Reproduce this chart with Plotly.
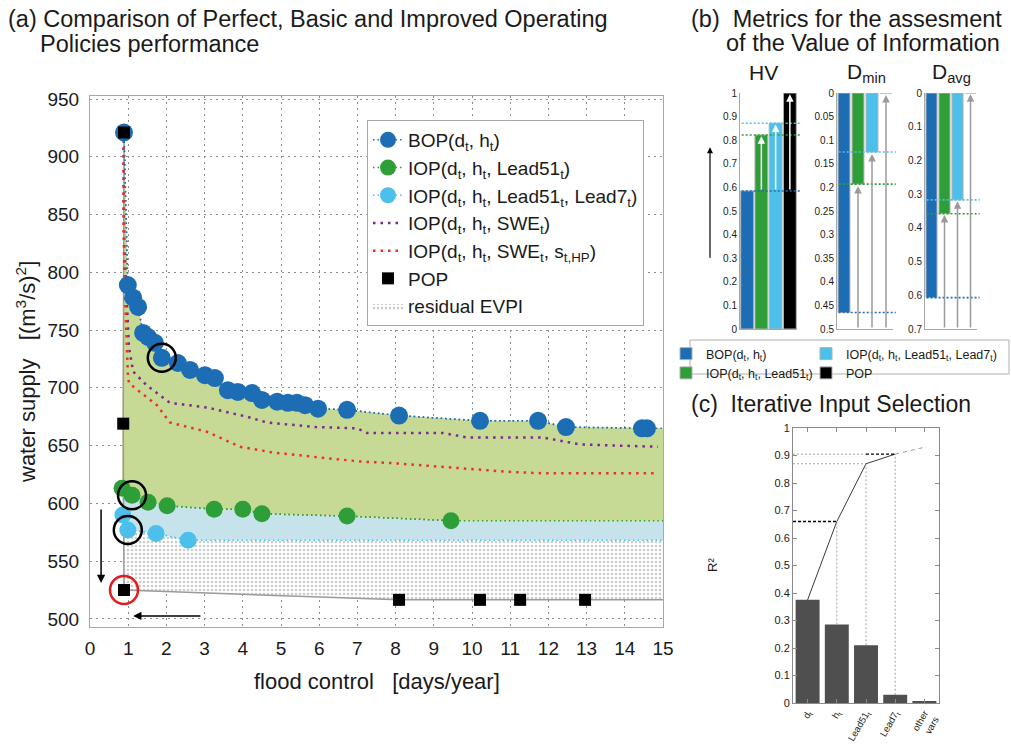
import plotly.graph_objects as go

W, H = 1011, 746
FONT = "Liberation Sans, Arial, Helvetica, sans-serif"
TXT = "#1a1a1a"


def fx(p):
    return p / W


def fy(p):
    return 1 - p / H


# ---------------- data: panel (a) ----------------
X_MAX = 15
bop_x = [0.89, 0.99, 1.13, 1.26, 1.39, 1.52, 1.70, 1.88, 2.30, 2.62, 3.01, 3.27, 3.61, 3.87,
         4.24, 4.50, 4.90, 5.18, 5.42, 5.63, 5.97, 6.73, 8.09, 10.21, 11.73, 12.46, 14.45, 14.58]
bop_y = [921, 789, 778, 770, 747.5, 744, 739, 726, 721.5, 715.5, 711, 708.5, 698, 696.5,
         695.5, 689.5, 688, 687, 687, 685, 682, 681, 676, 671.5, 671.5, 666, 665, 665]
iop51_x = [0.84, 1.10, 1.52, 2.02, 3.25, 4.00, 4.50, 6.73, 9.45]
iop51_y = [613, 607, 601, 598, 595, 595, 591, 589, 585]
iop517_x = [0.86, 0.99, 1.73, 2.57]
iop517_y = [590, 577, 574, 568]
swe_x = [0.88, 0.88, 0.90, 0.94, 0.97, 1.02, 1.13, 1.49, 2.09, 3.06, 4.11, 4.63, 5.94, 6.99,
         7.25, 9.24, 9.87, 11.86, 12.83, 14.87]
swe_y = [921, 856, 822, 793, 765, 735, 714, 702, 687, 683, 675, 670, 666, 665,
         661, 661, 657, 657, 651, 649]
swehp_x = [0.88, 0.88, 0.90, 0.94, 0.99, 1.02, 1.75, 2.09, 3.06, 3.93, 4.79, 5.94, 7.15,
           7.85, 9.35, 11.08, 11.96, 14.84]
swehp_y = [921, 837, 793, 750, 713, 704, 685, 670, 662, 649, 644, 640, 636,
           635, 631, 627, 626, 626]
pop_x = [0.89, 0.87, 0.89, 8.09, 10.21, 11.26, 12.96]
pop_y = [921, 669, 525, 516.5, 516.5, 516.5, 516.5]
hl_bop, hl_iop51, hl_iop517, hl_pop = 7, 1, 1, 2   # highlighted solutions

# ---------------- data: panel (b) ----------------
policies = ["BOP(d<sub>t</sub>, h<sub>t</sub>)",
            "IOP(d<sub>t</sub>, h<sub>t</sub>, Lead51<sub>t</sub>)",
            "IOP(d<sub>t</sub>, h<sub>t</sub>, Lead51<sub>t</sub>, Lead7<sub>t</sub>)",
            "POP"]
hv_vals = [0.585, 0.822, 0.872, 1.0]
dmin_vals = [0.465, 0.193, 0.125, 0.0]
davg_vals = [0.607, 0.358, 0.317, 0.0]

# ---------------- data: panel (c) ----------------
iis_labels = ["d<sub>t</sub>", "h<sub>t</sub>", "Lead51<sub>t</sub>", "Lead7<sub>t</sub>", "other<br>vars"]
iis_r2 = [0.375, 0.285, 0.21, 0.03, 0.007]
iis_cum = [0.375, 0.66, 0.87, 0.905, 0.93]

C_BOP = "#1c6db4"
C_I51 = "#2e9e38"
C_I517 = "#4cc0ea"
C_POP = "#000000"
C_SWE = "#7a2a90"
C_HP = "#ea3323"
FILL_G = "#c6da95"
FILL_B = "#c6e3eb"
pol_colors = [C_BOP, C_I51, C_I517, C_POP]

fig = go.Figure()

# ---- fills of panel (a) (stacked with tonexty) ----
fig.add_trace(go.Scatter(x=pop_x[2:] + [X_MAX], y=pop_y[2:] + [pop_y[-1]], mode="lines",
                         line=dict(width=0, color="#999"), showlegend=False, hoverinfo="skip"))
fig.add_trace(go.Scatter(x=iop517_x + [X_MAX], y=iop517_y + [iop517_y[-1]], mode="lines",
                         fill="tonexty", fillcolor="white",
                         fillpattern=dict(shape=".", fgcolor="#9a9a9a", bgcolor="#ffffff",
                                          size=4, solidity=0.35),
                         line=dict(width=0, color="#999"), name="residual EVPI",
                         legendrank=7, hoverinfo="skip"))
fig.add_trace(go.Scatter(x=iop51_x + [X_MAX], y=iop51_y + [iop51_y[-1]], mode="lines",
                         fill="tonexty", fillcolor=FILL_B,
                         line=dict(width=1.5, color=C_I51, dash="1.5px,3px"),
                         showlegend=False, hoverinfo="skip"))
fig.add_trace(go.Scatter(x=bop_x + [X_MAX], y=bop_y + [bop_y[-1]], mode="lines",
                         fill="tonexty", fillcolor=FILL_G,
                         line=dict(width=1.5, color=C_BOP, dash="1.5px,3px"),
                         showlegend=False, hoverinfo="skip"))
fig.add_trace(go.Scatter(x=iop517_x + [X_MAX], y=iop517_y + [iop517_y[-1]], mode="lines",
                         line=dict(width=1.5, color=C_I517, dash="1.5px,3px"),
                         showlegend=False, hoverinfo="skip"))
# POP front line
fig.add_trace(go.Scatter(x=pop_x + [X_MAX], y=pop_y + [pop_y[-1]], mode="lines",
                         line=dict(width=1.5, color="#9a9a9a"), showlegend=False, hoverinfo="skip"))
# SWE lines
fig.add_trace(go.Scatter(x=swe_x, y=swe_y, mode="lines", name="IOP(d<sub>t</sub>, h<sub>t</sub>, SWE<sub>t</sub>)",
                         line=dict(width=2.5, color=C_SWE, dash="2.5px,5px"), legendrank=4))
fig.add_trace(go.Scatter(x=swehp_x, y=swehp_y, mode="lines",
                         name="IOP(d<sub>t</sub>, h<sub>t</sub>, SWE<sub>t</sub>, s<sub>t,HP</sub>)",
                         line=dict(width=2.5, color=C_HP, dash="2.5px,5px"), legendrank=5))
# markers
fig.add_trace(go.Scatter(x=bop_x, y=bop_y, mode="lines+markers", name=policies[0],
                         line=dict(width=1.5, color=C_BOP, dash="1.5px,3px"),
                         marker=dict(size=18, color=C_BOP), legendrank=1))
fig.add_trace(go.Scatter(x=iop51_x, y=iop51_y, mode="lines+markers", name=policies[1],
                         line=dict(width=1.5, color=C_I51, dash="1.5px,3px"),
                         marker=dict(size=17, color=C_I51), legendrank=2))
fig.add_trace(go.Scatter(x=iop517_x, y=iop517_y, mode="lines+markers", name=policies[2],
                         line=dict(width=1.5, color=C_I517, dash="1.5px,3px"),
                         marker=dict(size=17, color=C_I517), legendrank=3))
fig.add_trace(go.Scatter(x=pop_x, y=pop_y, mode="markers", name="POP",
                         marker=dict(size=12, color=C_POP, symbol="square"), legendrank=6))
# highlighted solutions
fig.add_trace(go.Scatter(x=[bop_x[hl_bop], iop51_x[hl_iop51], iop517_x[hl_iop517]],
                         y=[bop_y[hl_bop], iop51_y[hl_iop51], iop517_y[hl_iop517]],
                         mode="markers", showlegend=False, hoverinfo="skip",
                         marker=dict(size=28, symbol="circle-open", color="black",
                                     line=dict(width=2.5, color="black"))))
fig.add_trace(go.Scatter(x=[pop_x[hl_pop]], y=[pop_y[hl_pop]], mode="markers",
                         showlegend=False, hoverinfo="skip",
                         marker=dict(size=28, symbol="circle-open", color="#e01b1b",
                                     line=dict(width=2.5, color="#e01b1b"))))

# ---- panel (b) bars ----
xs = [1, 2, 3, 4]
for i in range(4):
    lg = "legend2" if i in (0, 1) else "legend3"
    fig.add_trace(go.Bar(x=[xs[i]], y=[hv_vals[i]], xaxis="x2", yaxis="y2", width=0.9,
                         marker=dict(color=pol_colors[i], line=dict(color="#b0b0b0", width=1)),
                         name=policies[i], legend=lg, showlegend=True))
    fig.add_trace(go.Bar(x=[xs[i]], y=[dmin_vals[i]], xaxis="x3", yaxis="y3", width=0.85,
                         marker=dict(color=pol_colors[i], line=dict(color="#b0b0b0", width=1)),
                         showlegend=False))
    fig.add_trace(go.Bar(x=[xs[i]], y=[davg_vals[i]], xaxis="x4", yaxis="y4", width=0.85,
                         marker=dict(color=pol_colors[i], line=dict(color="#b0b0b0", width=1)),
                         showlegend=False))

# ---- panel (c) ----
iis_x = list(range(1, len(iis_r2) + 1))
fig.add_trace(go.Bar(x=iis_x, y=iis_r2, xaxis="x5", yaxis="y5", width=0.82,
                     marker=dict(color="#4f4f4f", line=dict(color="#4f4f4f", width=0)),
                     showlegend=False))
fig.add_trace(go.Scatter(x=iis_x[:4], y=iis_cum[:4], xaxis="x5", yaxis="y5", mode="lines",
                         line=dict(color="#3a3a3a", width=1), showlegend=False))
fig.add_trace(go.Scatter(x=iis_x[3:], y=iis_cum[3:], xaxis="x5", yaxis="y5", mode="lines",
                         line=dict(color="#9a9a9a", width=1, dash="4px,4px"), showlegend=False))

shapes = []
annotations = []

# panel (b) reference lines
for ax_id, vals in (("2", hv_vals), ("3", dmin_vals), ("4", davg_vals)):
    for i in range(3):
        shapes.append(dict(type="line", xref=f"x{ax_id} domain", yref=f"y{ax_id}",
                           x0=0.03, x1=1.05, y0=vals[i], y1=vals[i],
                           line=dict(color=pol_colors[i], width=1.6, dash="2px,2px")))
# HV white arrows
for i in range(1, 4):
    annotations.append(dict(x=xs[i], y=hv_vals[i] - 0.005, ax=xs[i], ay=hv_vals[0],
                            xref="x2", yref="y2", axref="x2", ayref="y2", text="",
                            showarrow=True, arrowhead=2, arrowsize=1, arrowwidth=1.5,
                            arrowcolor="white"))
# Dmin / Davg grey arrows
for ax_id, vals, bottom in (("3", dmin_vals, 0.5), ("4", davg_vals, 0.7)):
    for i in range(1, 4):
        annotations.append(dict(x=xs[i], y=vals[i] + 0.004, ax=xs[i], ay=bottom,
                                xref=f"x{ax_id}", yref=f"y{ax_id}", axref=f"x{ax_id}",
                                ayref=f"y{ax_id}", text="", showarrow=True, arrowhead=2,
                                arrowsize=1, arrowwidth=1.5, arrowcolor="#9a9a9a"))
# HV improvement arrow (left)
annotations.append(dict(x=fx(710), y=0.77, xref="paper", yref="y2", ax=0, ay=112,
                        text="", showarrow=True, arrowhead=2, arrowsize=1, arrowwidth=1.2,
                        arrowcolor="black"))

# panel (c) guide lines
for i in (1, 2, 3):
    shapes.append(dict(type="line", xref="x5", yref="y5", x0=iis_x[i], x1=iis_x[i],
                       y0=iis_r2[i], y1=iis_cum[i],
                       line=dict(color="#a0a0a0", width=1, dash="2px,2px")))
shapes.append(dict(type="line", xref="x5", yref="y5", x0=0.5, x1=iis_x[1], y0=iis_cum[1],
                   y1=iis_cum[1], line=dict(color="black", width=1.3, dash="3px,2px")))
shapes.append(dict(type="line", xref="x5", yref="y5", x0=0.5, x1=iis_x[2], y0=iis_cum[2],
                   y1=iis_cum[2], line=dict(color="#a0a0a0", width=1, dash="2px,2px")))
shapes.append(dict(type="line", xref="x5", yref="y5", x0=0.5, x1=iis_x[2], y0=iis_cum[3],
                   y1=iis_cum[3], line=dict(color="#a0a0a0", width=1, dash="2px,2px")))
shapes.append(dict(type="line", xref="x5", yref="y5", x0=iis_x[2], x1=iis_x[3], y0=iis_cum[3],
                   y1=iis_cum[3], line=dict(color="black", width=1.3, dash="3px,2px")))

# legend box for panel (b)
shapes.append(dict(type="rect", xref="paper", yref="paper", x0=fx(690), x1=fx(1009),
                   y0=fy(374), y1=fy(340), line=dict(color="#b0b0b0", width=1)))

# arrows in panel (a)
annotations.append(dict(x=0.29, y=531, ax=0.29, ay=596, xref="x", yref="y", axref="x", ayref="y",
                        text="", showarrow=True, arrowhead=2, arrowsize=1.1, arrowwidth=1.5,
                        arrowcolor="black"))
annotations.append(dict(x=1.13, y=502.6, ax=2.93, ay=502.6, xref="x", yref="y", axref="x",
                        ayref="y", text="", showarrow=True, arrowhead=2, arrowsize=1.1,
                        arrowwidth=1.5, arrowcolor="black"))


def label(text, x, y, size, xanchor="left", yanchor="middle", angle=0):
    annotations.append(dict(text=text, x=fx(x), y=fy(y), xref="paper", yref="paper",
                            xanchor=xanchor, yanchor=yanchor, showarrow=False,
                            textangle=angle, font=dict(size=size, color=TXT, family=FONT)))


label("(a) Comparison of Perfect, Basic and Improved Operating", 6, 19, 23.5)
label("Policies performance", 38, 44, 23.5)
label("(b)  Metrics for the assesment", 689, 19, 23.5)
label("of the Value of Information", 724, 43, 23.5)
label("HV", 763, 73, 21, xanchor="center")
label("D<sub>min</sub>", 866, 73, 21, xanchor="center")
label("D<sub>avg</sub>", 951, 73, 21, xanchor="center")
label("(c)  Iterative Input Selection", 689, 404, 23)
label("water supply   [(m<sup>3</sup>/s)<sup>2</sup>]", 26, 372, 22, xanchor="center", angle=-90)
label("flood control   [days/year]", 377, 681, 22, xanchor="center")
label("R²", 712, 565, 13, xanchor="center", angle=-90)

grid = dict(showgrid=True, gridcolor="#8c8c8c", griddash="2px,4px", gridwidth=1)
small_ax = dict(showline=True, linecolor="#a8a8a8", linewidth=1, ticks="", zeroline=False,
                showgrid=False, tickfont=dict(size=10, color=TXT, family=FONT))

fig.update_layout(
    width=W, height=H, margin=dict(l=0, r=0, t=0, b=0, autoexpand=False),
    paper_bgcolor="white", plot_bgcolor="white",
    font=dict(family=FONT, color=TXT),
    barmode="overlay",
    showlegend=True,
    xaxis=dict(domain=[fx(90), fx(663)], range=[0, X_MAX], dtick=1, tick0=0, anchor="y",
               showline=True, mirror=True, linecolor="#a8a8a8", zeroline=False, automargin=False,
               tickfont=dict(size=19, color=TXT), ticklabelstandoff=4, **grid),
    yaxis=dict(domain=[fy(627), fy(96)], range=[493, 952.6], dtick=50, tick0=500, anchor="x",
               showline=True, mirror=True, linecolor="#a8a8a8", zeroline=False, automargin=False,
               tickfont=dict(size=19, color=TXT), ticklabelstandoff=6, **grid),
    xaxis2=dict(domain=[fx(740), fx(797)], range=[0.5, 4.5], anchor="y2",
                showticklabels=False, **small_ax),
    yaxis2=dict(domain=[fy(329), fy(93)], range=[0, 1], dtick=0.1, anchor="x2", **small_ax),
    xaxis3=dict(domain=[fx(837), fx(893)], range=[0.5, 4.5], anchor="y3",
                showticklabels=False, **small_ax),
    yaxis3=dict(domain=[fy(329), fy(93)], range=[0.5, 0], dtick=0.05, anchor="x3", **small_ax),
    xaxis4=dict(domain=[fx(925), fx(977)], range=[0.5, 4.5], anchor="y4",
                showticklabels=False, **small_ax),
    yaxis4=dict(domain=[fy(329), fy(93)], range=[0.7, 0], dtick=0.1, anchor="x4", **small_ax),
    xaxis5=dict(domain=[fx(793), fx(939)], range=[0.5, 5.5], anchor="y5",
                tickvals=iis_x, ticktext=iis_labels, tickangle=-60,
                showline=True, mirror="ticks", linecolor="#8a8a8a", ticks="inside", ticklen=4,
                tickcolor="#8a8a8a", zeroline=False, showgrid=False,
                tickfont=dict(size=9.5, color=TXT)),
    yaxis5=dict(domain=[fy(703), fy(428)], range=[0, 1], dtick=0.1, anchor="x5",
                showline=True, mirror="ticks", linecolor="#8a8a8a", ticks="inside", ticklen=4,
                tickcolor="#8a8a8a", zeroline=False, showgrid=False,
                tickfont=dict(size=11, color=TXT)),
    legend=dict(x=fx(367), y=fy(120), xanchor="left", yanchor="top",
                bgcolor="white", bordercolor="#a8a8a8", borderwidth=1,
                font=dict(size=19, color=TXT, family=FONT), tracegroupgap=0,
                traceorder="normal"),
    legend2=dict(x=fx(666), y=fy(339), xanchor="left", yanchor="top",
                 bgcolor="rgba(0,0,0,0)", borderwidth=0,
                 font=dict(size=12.5, color=TXT, family=FONT), tracegroupgap=0),
    legend3=dict(x=fx(806), y=fy(339), xanchor="left", yanchor="top",
                 bgcolor="rgba(0,0,0,0)", borderwidth=0,
                 font=dict(size=12.5, color=TXT, family=FONT), tracegroupgap=0),
    shapes=shapes,
    annotations=annotations,
)

fig.write_html("out.html", config={"displayModeBar": False},
               post_script="document.body.style.margin='0px';")
